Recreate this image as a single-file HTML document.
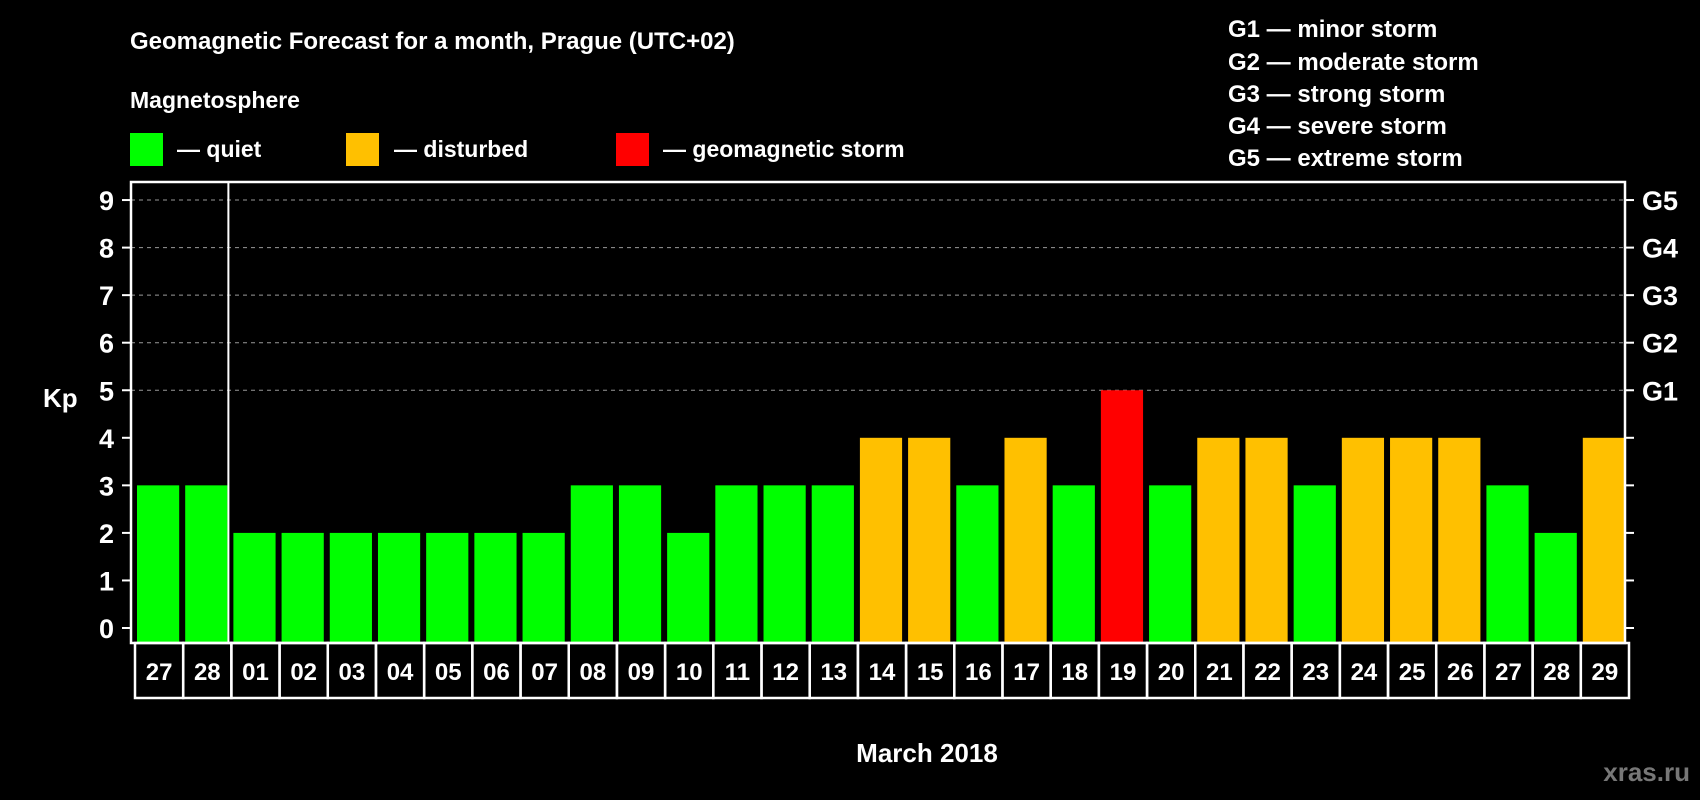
<!DOCTYPE html>
<html><head><meta charset="utf-8"><style>
html,body{margin:0;padding:0;background:#000;}
svg{display:block;font-family:"Liberation Sans",Arial,sans-serif;font-weight:bold;}
</style></head><body>
<svg id="c" width="1700" height="800" viewBox="0 0 1700 800">
<rect width="1700" height="800" fill="#000"/>
<text x="130" y="49" fill="#fff" font-size="24">Geomagnetic Forecast for a month, Prague (UTC+02)</text>
<text x="130" y="108" fill="#fff" font-size="23">Magnetosphere</text>
<g><rect x="130" y="133" width="33" height="33" fill="#00ff00"/><text x="177" y="157" fill="#fff" font-size="23">— quiet</text></g>
<g><rect x="346" y="133" width="33" height="33" fill="#ffc000"/><text x="394" y="157" fill="#fff" font-size="23">— disturbed</text></g>
<g><rect x="616" y="133" width="33" height="33" fill="#ff0000"/><text x="663" y="157" fill="#fff" font-size="23">— geomagnetic storm</text></g>
<g fill="#fff" font-size="24">
<text x="1228" y="37">G1 — minor storm</text>
<text x="1228" y="70">G2 — moderate storm</text>
<text x="1228" y="102">G3 — strong storm</text>
<text x="1228" y="134">G4 — severe storm</text>
<text x="1228" y="166">G5 — extreme storm</text>
</g>
<text x="43" y="407" fill="#fff" font-size="26">Kp</text>
<text x="927" y="762" fill="#fff" font-size="26" text-anchor="middle">March 2018</text>
<text x="1690" y="781" fill="#777" font-size="26" text-anchor="end">xras.ru</text>
<g id="plot"></g>
</svg>
<script>
const days=["27","28","01","02","03","04","05","06","07","08","09","10","11","12","13","14","15","16","17","18","19","20","21","22","23","24","25","26","27","28","29"];
const kp=[3,3,2,2,2,2,2,2,2,3,3,2,3,3,3,4,4,3,4,3,5,3,4,4,3,4,4,4,3,2,4];
const yTicks=[0,1,2,3,4,5,6,7,8,9];
const gLabels=["G1","G2","G3","G4","G5"];
const gLevels=[5,6,7,8,9];
const NS="http://www.w3.org/2000/svg";
const L=131,R=1625,T=182,B=643;
const y=v=>628-v*47.55;
const step=(R-L)/days.length;
const x=i=>L+i*step;
const g=document.getElementById('plot');
function mk(t,a,p){const e=document.createElementNS(NS,t);for(const k in a)e.setAttribute(k,a[k]);(p||g).appendChild(e);return e;}
gLevels.forEach(v=>{const l=mk('line',{x1:L,x2:R,y1:y(v),y2:y(v),stroke:'#999','stroke-dasharray':'4,4','stroke-width':1});

});
kp.forEach((v,i)=>{const col=v>=5?'#ff0000':(v>=4?'#ffc000':'#00ff00');
const r=mk('rect',{x:x(i)+6,y:y(v),width:step-6,height:B-y(v),fill:col});


const c=mk('rect',{x:x(i)+4,y:B,width:step,height:55,fill:'none',stroke:'#fff','stroke-width':2.5});


const t=mk('text',{x:x(i)+4+step/2,y:B+37,fill:'#fff','font-size':24,'text-anchor':'middle'});t.textContent=days[i];

});
const f=mk('rect',{x:L,y:T,width:R-L,height:B-T,fill:'none',stroke:'#fff','stroke-width':2.5});


const d=mk('line',{x1:x(2)+1,x2:x(2)+1,y1:T,y2:B,stroke:'#fff','stroke-width':2});


yTicks.forEach(v=>{mk('line',{x1:L-9,x2:L,y1:y(v),y2:y(v),stroke:'#fff','stroke-width':2});
mk('line',{x1:R,x2:R+9,y1:y(v),y2:y(v),stroke:'#fff','stroke-width':2});
const t=mk('text',{x:114,y:y(v)+10,fill:'#fff','font-size':27,'text-anchor':'end'});t.textContent=v;

});
gLevels.forEach((v,i)=>{const t=mk('text',{x:1642,y:y(v)+10,fill:'#fff','font-size':27});t.textContent=gLabels[i];

});
</script>
</body></html>
